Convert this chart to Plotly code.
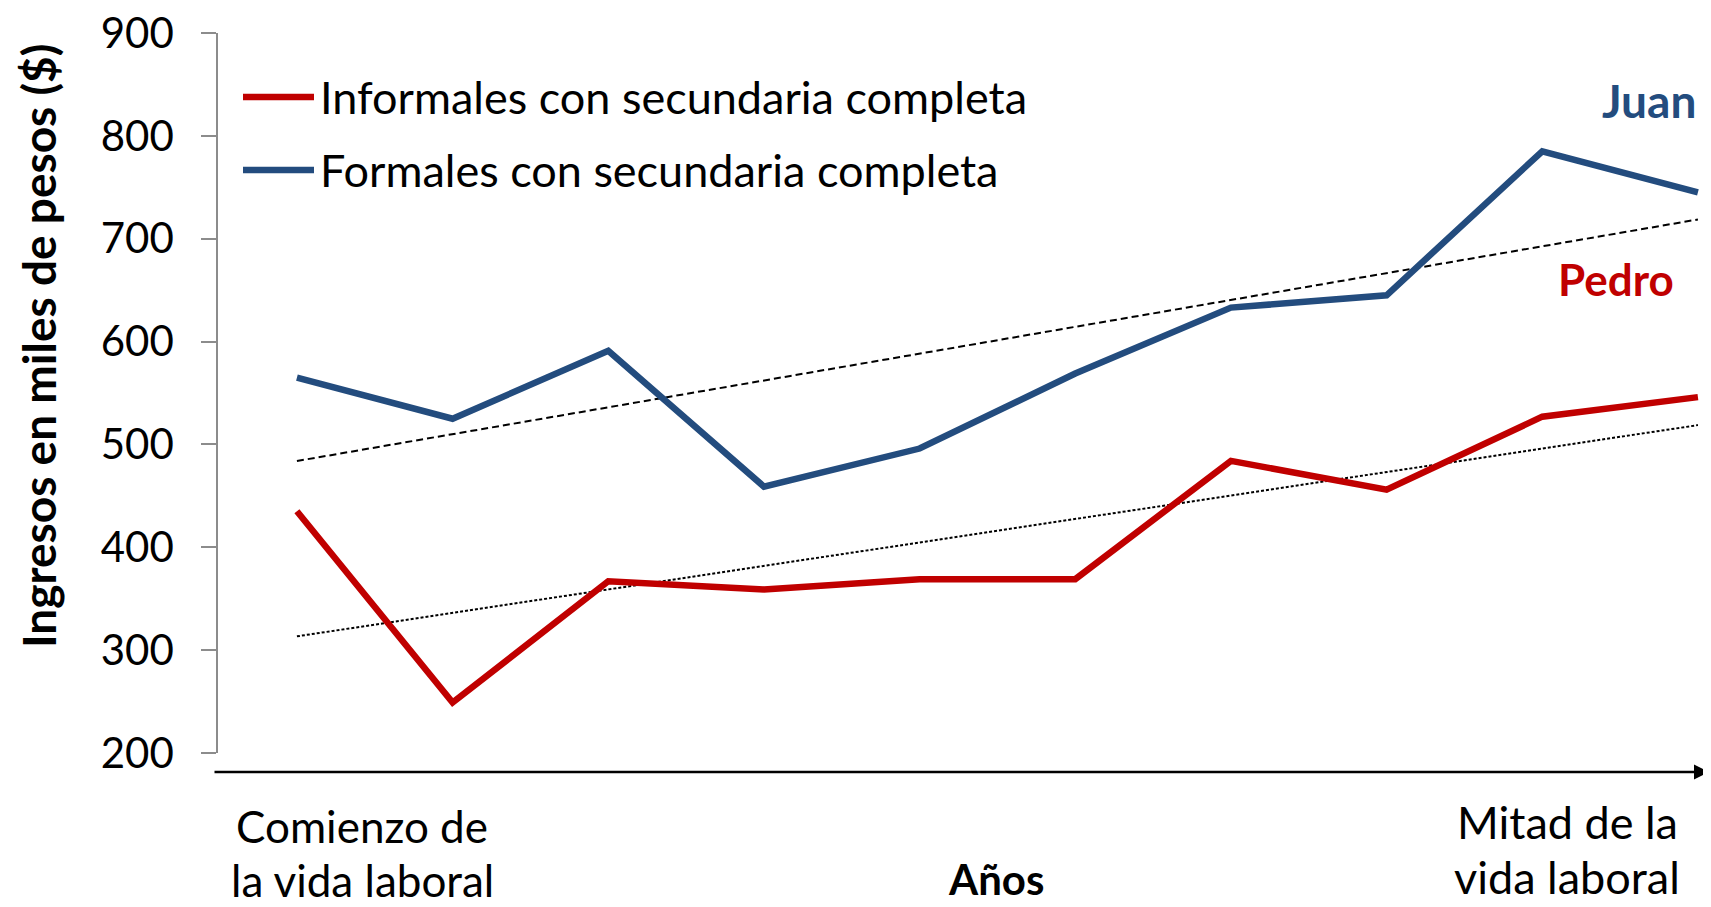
import numpy as np
import plotly.graph_objects as go

# ingresos (miles de pesos), 10 puntos en el tiempo
periodos = list(range(10))
informales = [435, 249, 367, 359, 369, 369, 484, 456, 527, 546]
formales = [565, 525, 591, 459, 496, 569, 633, 645, 785, 745]
y_ticks = [200, 300, 400, 500, 600, 700, 800, 900]

ROJO = '#C00000'
AZUL = '#234C7E'
FUENTE = 'Lato, sans-serif'

# la pagina tiene 8px de margen en el body: la figura empieza en (8, 8)
OFF = 8
W, H = 1711 - OFF, 907 - OFF
# area de trazado en pixeles de pantalla
L, R, T, B = 218, 1711, 33, 753


def px(x):
    return (x - L) / (R - L)


def py(y):
    return (B - y) / (B - T)


# lineas de tendencia lineal (como en Excel)
def tendencia(vals):
    m, b = np.polyfit(periodos, vals, 1)
    return [m * p + b for p in periodos]


fig = go.Figure()
fig.add_trace(go.Scatter(x=periodos, y=tendencia(formales), mode='lines',
                         line=dict(color='black', width=2, dash='7px,4px'),
                         hoverinfo='skip', showlegend=False))
fig.add_trace(go.Scatter(x=periodos, y=tendencia(informales), mode='lines',
                         line=dict(color='black', width=2, dash='3px,2px'),
                         hoverinfo='skip', showlegend=False))
fig.add_trace(go.Scatter(x=periodos, y=informales, mode='lines',
                         name='Informales con secundaria completa',
                         line=dict(color=ROJO, width=6.5), showlegend=False))
fig.add_trace(go.Scatter(x=periodos, y=formales, mode='lines',
                         name='Formales con secundaria completa',
                         line=dict(color=AZUL, width=6.5), showlegend=False))

anns = []
shapes = []


def texto(txt, x, y, size, color='black', xanchor='center', **kw):
    anns.append(dict(text=txt, xref='paper', yref='paper', x=px(x), y=py(y),
                     xanchor=xanchor, yanchor='middle', showarrow=False,
                     font=dict(family=FUENTE, size=size, color=color), **kw))


# leyenda dibujada a mano
for yy, col, txt in [(97, ROJO, 'Informales con secundaria completa'),
                     (170, AZUL, 'Formales con secundaria completa')]:
    shapes.append(dict(type='line', xref='paper', yref='paper',
                       x0=px(243), x1=px(314), y0=py(yy), y1=py(yy),
                       line=dict(color=col, width=6.5)))
    texto(txt, 318, yy, 45, xanchor='left')

texto('<b>Juan</b>', 1698, 100, 46, AZUL, xanchor='right')
texto('<b>Pedro</b>', 1616, 279, 44, ROJO)

# titulo eje y
texto('<b>Ingresos en miles de pesos ($)</b>', 38, 346, 46, textangle=-90)

# etiquetas del eje x
texto('Comienzo de', 362, 826, 44)
texto('la vida laboral', 362, 880, 44)
texto('Mitad de la', 1567, 822, 45)
texto('vida laboral', 1567, 877, 45)
texto('<b>Años</b>', 996, 879, 42)

# flecha del eje de tiempo
anns.append(dict(text='', xref='paper', yref='paper', x=px(1709), y=py(772),
                 ax=213 - 1709, ay=0, axref='pixel', ayref='pixel', showarrow=True,
                 arrowhead=2, arrowsize=1.2, arrowwidth=2.5, arrowcolor='black'))

fig.update_layout(
    width=W, height=H,
    margin=dict(l=L - OFF, r=1711 - R, t=T - OFF, b=907 - B),
    paper_bgcolor='white', plot_bgcolor='white',
    annotations=anns, shapes=shapes,
    xaxis=dict(range=[-0.507, 9.084], visible=False),
    yaxis=dict(range=[200, 900], tickvals=y_ticks, showgrid=False, zeroline=False,
               showline=True, linecolor='#8c8c8c', linewidth=1.5,
               ticks='outside', ticklen=15, tickcolor='#8c8c8c', tickwidth=1.5,
               ticklabelstandoff=19, ticklabeloverflow='allow',
               tickfont=dict(family=FUENTE, size=42, color='black')),
)

fig.write_html('out.html')
